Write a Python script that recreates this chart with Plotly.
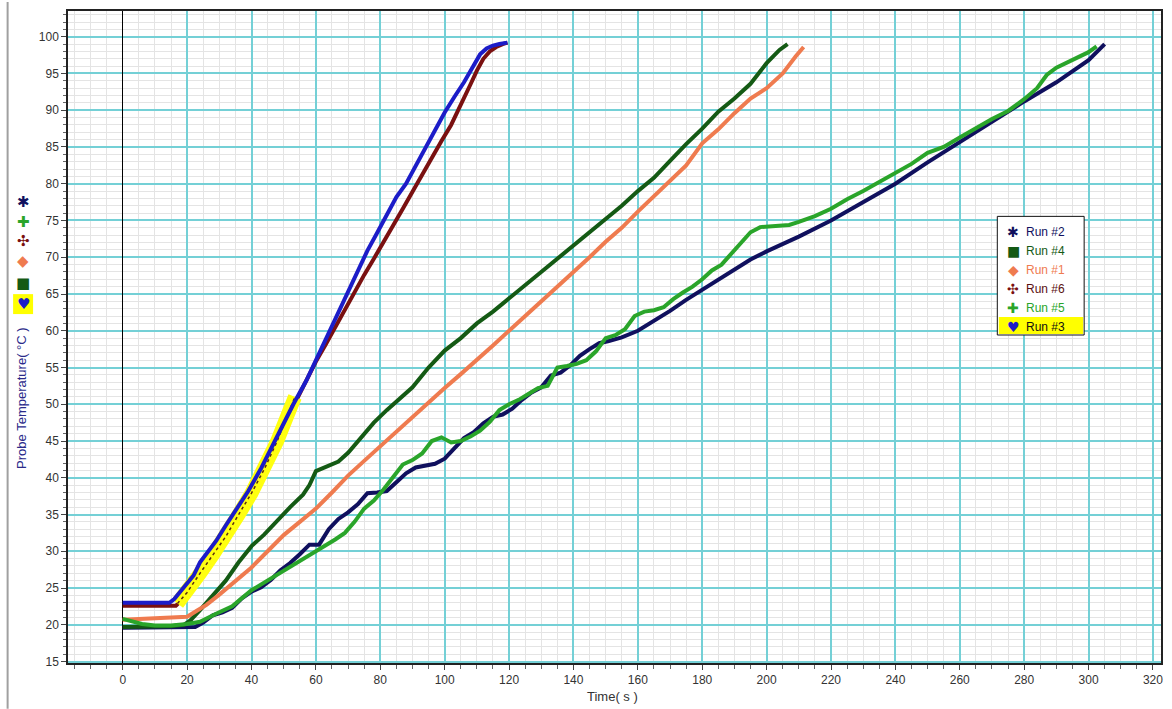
import plotly.graph_objects as go

# ---------------- data ----------------
run2_t = [0, 5, 10, 15, 20, 22.5, 25, 28, 31, 34, 37, 40, 43, 46, 49, 52, 55, 58, 61, 64, 67, 70, 73, 76, 79, 82, 85, 88, 91, 94, 97, 100, 103, 106, 109, 112, 115, 118, 121, 124, 127, 130, 133, 136, 139, 142, 145, 148, 151, 155, 160, 165, 170, 175, 180, 185, 190, 195, 200, 210, 220, 230, 240, 250, 260, 270, 280, 290, 295, 300, 305]
run2_T = [19.6, 19.6, 19.6, 19.6, 19.6, 19.7, 20.3, 21.3, 21.7, 22.3, 23.6, 24.5, 25.1, 26.1, 27.4, 28.4, 29.6, 30.9, 30.9, 33.0, 34.4, 35.3, 36.4, 37.9, 38.0, 38.2, 39.4, 40.6, 41.4, 41.6, 41.9, 42.6, 44.0, 45.4, 46.2, 47.4, 48.3, 48.6, 49.4, 50.6, 51.6, 52.3, 53.9, 54.3, 55.3, 56.6, 57.5, 58.3, 58.6, 59.1, 60.0, 61.3, 62.7, 64.2, 65.6, 67.0, 68.3, 69.7, 70.8, 72.8, 75.0, 77.5, 80.0, 82.9, 85.7, 88.5, 91.2, 93.8, 95.3, 96.8, 99.0]

run4_t = [0, 5, 10, 15, 19, 21, 24, 28, 32, 36, 40, 44, 48, 52, 56, 58, 60, 63, 67, 70, 74, 78, 82, 86, 90, 95, 100, 105, 110, 115, 120, 125, 130, 135, 140, 145, 150, 155, 160, 165, 170, 175, 180, 185, 190, 195, 200, 204, 206.5]
run4_T = [19.7, 19.7, 19.7, 19.8, 20.0, 20.6, 22.0, 23.9, 26.0, 28.5, 30.7, 32.3, 34.2, 36.0, 37.7, 39.0, 40.9, 41.4, 42.2, 43.4, 45.4, 47.5, 49.2, 50.8, 52.3, 55.0, 57.3, 59.0, 61.0, 62.6, 64.4, 66.2, 68.0, 69.8, 71.6, 73.4, 75.3, 77.0, 79.0, 80.8, 83.1, 85.4, 87.5, 89.8, 91.6, 93.6, 96.4, 98.2, 99.0]

run1_t = [0, 5, 10, 15, 20, 23, 26, 30, 35, 40, 45, 50, 55, 60, 65, 70, 75, 80, 85, 90, 95, 100, 105, 110, 115, 120, 125, 130, 135, 140, 145, 150, 155, 160, 165, 170, 175, 180, 185, 190, 195, 200, 205, 209, 211.5]
run1_T = [20.7, 20.8, 20.8, 20.9, 21.1, 21.9, 22.7, 24.1, 26.0, 27.8, 30.0, 32.2, 34.0, 35.8, 38.0, 40.3, 42.3, 44.3, 46.2, 48.3, 50.2, 52.2, 54.1, 56.0, 58.0, 60.0, 62.0, 64.0, 65.9, 68.0, 70.0, 72.1, 74.0, 76.2, 78.3, 80.5, 82.5, 85.5, 87.4, 89.6, 91.6, 93.0, 95.0, 97.3, 98.6]

run6_t = [0, 4, 8, 12, 16.5, 18, 20, 22, 24, 27, 30, 34, 38, 42, 46, 50, 54, 57, 60, 63, 66, 69, 72, 75, 78, 81, 84, 87, 90, 93, 96, 99, 102, 105, 108, 110, 112, 114, 116, 118, 119.5]
run6_T = [22.6, 22.6, 22.6, 22.6, 22.6, 23.2, 24.4, 25.6, 26.7, 28.6, 30.5, 33.2, 36.1, 39.2, 42.8, 46.4, 50.6, 53.3, 55.8, 58.1, 60.5, 62.9, 65.3, 67.6, 69.8, 72.0, 74.2, 76.6, 78.9, 81.2, 83.7, 85.8, 88.0, 90.6, 93.5, 95.4, 97.0, 98.0, 98.6, 99.0, 99.2]

run5_t = [0, 3, 6, 10, 15, 20, 24, 29, 34, 40, 45, 50, 55, 60, 63, 66, 69, 72, 75, 78, 81, 84, 87, 90, 93, 96, 99, 102, 105, 108, 111, 114, 117, 120, 123, 126, 129, 132, 135, 138, 141, 144, 147, 150, 153, 156, 159, 162, 165, 168, 171, 174, 177, 180, 183, 186, 189, 192, 195, 198, 201, 204, 207, 210, 215, 220, 225, 230, 235, 240, 245, 250, 255, 260, 265, 270, 275, 280, 284, 287, 290, 295, 300, 302.5]
run5_T = [20.8, 20.4, 20.1, 19.9, 19.9, 20.1, 20.4, 21.5, 22.5, 24.7, 26.0, 27.3, 28.7, 30.0, 30.8, 31.6, 32.5, 34.0, 35.8, 36.9, 38.4, 40.0, 41.8, 42.4, 43.3, 45.0, 45.5, 44.8, 45.0, 45.6, 46.4, 47.6, 49.2, 50.0, 50.6, 51.4, 52.2, 52.5, 55.0, 55.2, 55.5, 56.0, 57.2, 59.0, 59.4, 60.2, 62.0, 62.6, 62.8, 63.2, 64.3, 65.2, 66.0, 67.0, 68.2, 69.0, 70.4, 71.8, 73.4, 74.1, 74.2, 74.3, 74.4, 74.8, 75.6, 76.6, 77.9, 79.0, 80.2, 81.4, 82.7, 84.2, 85.0, 86.3, 87.6, 88.8, 89.9, 91.5, 93.0, 94.8, 95.8, 96.8, 97.9, 98.7]

sel_t = [17, 20, 24, 28, 32, 36, 40, 44, 48, 51, 53.5]
sel_T = [22.9, 24.4, 27.0, 29.5, 32.0, 35.0, 37.9, 41.2, 45.0, 48.3, 51.0]

run3_t = [0, 4, 8, 12, 14.5, 16, 18, 20, 22, 24, 26, 29, 32, 35, 39, 43, 47, 50, 53, 57, 60, 64, 67, 70, 73, 76, 79, 82, 85, 88, 91, 94, 97, 100, 103, 106, 109, 111, 113, 115, 117, 119.5]
run3_T = [23, 23, 23, 23, 23, 23.5, 24.6, 25.6, 26.7, 28.5, 29.6, 31.4, 33.5, 35.6, 38.2, 41.3, 44.8, 47.2, 50.0, 53.2, 56.0, 60.0, 62.8, 65.5, 68.2, 70.9, 73.3, 75.7, 78.2, 80.0, 82.4, 84.7, 87.3, 89.7, 91.8, 93.8, 96.1, 97.6, 98.4, 98.8, 99.0, 99.2]

x_ticks = list(range(0, 321, 20))
y_ticks = list(range(15, 101, 5))

run_names = ["Run #2", "Run #4", "Run #1", "Run #6", "Run #5", "Run #3"]
run_colors = ["#10105e", "#145a14", "#ef7b4f", "#7a1010", "#2aa52a", "#1c1cc8"]
run_symbols = ["\u2731", "\u25A0", "\u25C6", "\u2723", "\u271A", "\u2665"]

# ---------------- figure ----------------
W, H = 1172, 709
ML, MR, MT, MB = 68, 9, 9, 46
PW, PH = W - ML - MR, H - MT - MB


def xp(px):
    return (px - ML) / PW


def yp(py):
    return (H - MB - py) / PH


fig = go.Figure()

def add_run(t, T, color, width=4):
    fig.add_trace(go.Scatter(x=t, y=T, mode="lines",
                             line=dict(color=color, width=width),
                             showlegend=False, hoverinfo="skip"))

add_run(run2_t, run2_T, run_colors[0])
add_run(run4_t, run4_T, run_colors[1])
add_run(run1_t, run1_T, run_colors[2])
add_run(run6_t, run6_T, run_colors[3])
add_run(run5_t, run5_T, run_colors[4])
# yellow selection band with dotted data points
fig.add_trace(go.Scatter(x=sel_t, y=sel_T, mode="lines",
                         line=dict(color="#ffff10", width=14),
                         showlegend=False, hoverinfo="skip"))
fig.add_trace(go.Scatter(x=sel_t, y=sel_T, mode="lines",
                         line=dict(color="#5a2a10", width=1.5, dash="dot"),
                         showlegend=False, hoverinfo="skip"))
add_run(run3_t, run3_T, run_colors[5])

axis_font = dict(family="Liberation Sans, Arial, sans-serif", size=12, color="#333333")

fig.update_xaxes(range=[-17, 322.5], tickvals=x_ticks, ticktext=[str(v) for v in x_ticks],
                 showgrid=True, gridcolor="#74d0d6", gridwidth=2,
                 zeroline=True, zerolinecolor="#000000", zerolinewidth=1,
                 showline=True, mirror=True, linecolor="#222222", linewidth=1.5,
                 ticks="outside", ticklen=5, tickcolor="#444444",
                 minor=dict(dtick=5, tick0=0, showgrid=True, gridcolor="#e4e4e4", gridwidth=1,
                            ticks="outside", ticklen=4, tickcolor="#666666"),
                 tickfont=axis_font)
fig.update_yaxes(range=[14.8, 103.5], tickvals=y_ticks, ticktext=[str(v) for v in y_ticks],
                 showgrid=True, gridcolor="#74d0d6", gridwidth=2, zeroline=False,
                 showline=True, mirror=True, linecolor="#222222", linewidth=1.5,
                 ticks="outside", ticklen=5, tickcolor="#444444",
                 minor=dict(dtick=1, tick0=0, showgrid=True, gridcolor="#e4e4e4", gridwidth=1,
                            ticks="outside", ticklen=3, tickcolor="#666666"),
                 tickfont=axis_font)

shapes = []
annotations = []

# window border at the far left
shapes.append(dict(type="line", xref="paper", yref="paper", x0=xp(7.5), x1=xp(7.5),
                   y0=yp(0), y1=yp(H), line=dict(color="#a0a0a0", width=2)))

# legend box
lx0, lx1, ly0, ly1 = 999, 1086, 215, 334
shapes.append(dict(type="rect", xref="paper", yref="paper", x0=xp(lx0), x1=xp(lx1),
                   y0=yp(ly1), y1=yp(ly0), fillcolor="white", line=dict(color="#111111", width=1)))
shapes.append(dict(type="rect", xref="paper", yref="paper", x0=xp(1000.5), x1=xp(1085),
                   y0=yp(333), y1=yp(316), fillcolor="#ffff00", line=dict(width=0)))
# yellow behind left-side heart
shapes.append(dict(type="rect", xref="paper", yref="paper", x0=xp(13), x1=xp(33),
                   y0=yp(313), y1=yp(293), fillcolor="#ffff00", line=dict(width=0)))

sym_font = "DejaVu Sans"
text_colors = ["#10105e", "#145a14", "#ef7b4f", "#5a1010", "#2aa52a", "#111111"]
for i, (nm, col, sym) in enumerate(zip(run_names, run_colors, run_symbols)):
    yy = 231 + 19 * i
    annotations.append(dict(x=xp(1015), y=yp(yy), xref="paper", yref="paper", text=sym,
                            showarrow=False, xanchor="center", yanchor="middle",
                            font=dict(family=sym_font, size=14, color=col)))
    annotations.append(dict(x=xp(1026), y=yp(yy), xref="paper", yref="paper", text=nm,
                            showarrow=False, xanchor="left", yanchor="middle",
                            font=dict(family="Liberation Sans, Arial", size=12, color=text_colors[i])))

# left-side symbol column (order as in reference)
left_order = [0, 4, 3, 2, 1, 5]
left_y = [201, 221, 240, 260, 282, 303]
for idx, yy in zip(left_order, left_y):
    annotations.append(dict(x=xp(23), y=yp(yy), xref="paper", yref="paper", text=run_symbols[idx],
                            showarrow=False, xanchor="center", yanchor="middle",
                            font=dict(family=sym_font, size=15, color=run_colors[idx])))

# axis titles
annotations.append(dict(x=xp(22), y=yp(397), xref="paper", yref="paper",
                        text="Probe Temperature( \u00b0C )", textangle=-90, showarrow=False,
                        xanchor="center", yanchor="middle",
                        font=dict(family="Liberation Sans, Arial", size=13, color="#2a2a8a")))
annotations.append(dict(x=xp(613), y=yp(697), xref="paper", yref="paper",
                        text="Time( s )", showarrow=False, xanchor="center", yanchor="middle",
                        font=dict(family="Liberation Sans, Arial", size=13, color="#333333")))

fig.update_layout(width=W, height=H, autosize=False,
                  margin=dict(l=ML, r=MR, t=MT, b=MB),
                  paper_bgcolor="white", plot_bgcolor="white",
                  showlegend=False, shapes=shapes, annotations=annotations)

fig.write_html("out.html")
